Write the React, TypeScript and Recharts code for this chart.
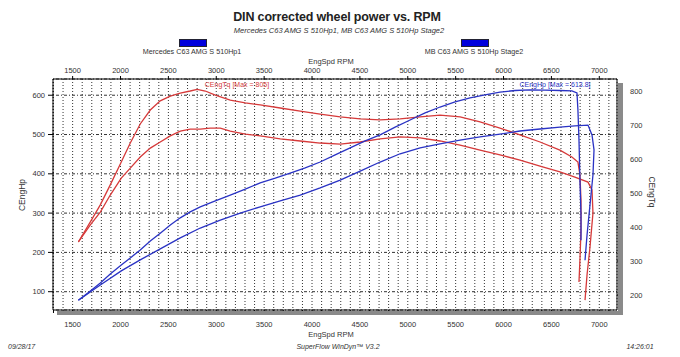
import React from 'react';
import { LineChart, Line, XAxis, YAxis, CartesianGrid } from 'recharts';

// ---- Data ----
const stage2HpRpm = [1560, 1685, 1789, 1893, 2008, 2102, 2206, 2311, 2415, 2520, 2624, 2728, 2833, 2990, 3146, 3303, 3459, 3616, 3772, 3929, 4085, 4242, 4398, 4555, 4711, 4868, 5024, 5181, 5337, 5494, 5650, 5807, 5963, 6120, 6276, 6433, 6589, 6714, 6767, 6777, 6788, 6798, 6809, 6809];
const stage2HpVal = [78, 102, 122, 145, 168, 186, 206, 229, 249, 270, 288, 303, 316, 331, 346, 361, 377, 389, 402, 415, 430, 448, 466, 484, 499, 519, 537, 555, 570, 583, 593, 601, 608, 612, 613.8, 613, 612, 611, 606, 562, 486, 384, 295, 231];

const stockHpRpm = [1560, 1789, 2008, 2206, 2415, 2624, 2833, 3042, 3250, 3459, 3668, 3877, 4085, 4294, 4503, 4711, 4920, 5129, 5337, 5546, 5755, 5963, 6172, 6381, 6589, 6745, 6882, 6924, 6945, 6934, 6903, 6872, 6851];
const stockHpVal = [78, 117, 153, 181, 209, 237, 262, 282, 300, 316, 331, 346, 364, 384, 407, 430, 451, 466, 476, 486, 494, 501, 509, 514, 519, 522, 524, 499, 461, 397, 321, 244, 180];

const stage2TqRpm = [1560, 1685, 1789, 1893, 2008, 2102, 2206, 2311, 2415, 2520, 2624, 2728, 2801, 2885, 2990, 3146, 3303, 3459, 3668, 3877, 4085, 4294, 4503, 4711, 4920, 5129, 5337, 5546, 5755, 5963, 6172, 6381, 6589, 6714, 6777, 6798, 6809, 6809, 6798, 6788];
const stage2TqVal = [356, 415, 465, 524, 591, 647, 703, 744, 771, 785, 794, 800, 805, 800, 788, 773, 765, 759, 750, 741, 732, 724, 718, 715, 718, 724, 729, 724, 709, 691, 671, 650, 626, 606, 591, 553, 479, 391, 303, 238];

const stockTqRpm = [1560, 1685, 1789, 1893, 2008, 2102, 2206, 2311, 2415, 2520, 2624, 2728, 2833, 2937, 3042, 3146, 3303, 3459, 3668, 3877, 4085, 4294, 4503, 4711, 4920, 5129, 5337, 5546, 5755, 5963, 6172, 6381, 6589, 6745, 6882, 6924, 6934, 6903, 6872, 6851];
const stockTqVal = [356, 406, 444, 494, 544, 573, 606, 632, 650, 668, 682, 688, 688, 691, 691, 682, 673, 668, 659, 653, 647, 644, 650, 659, 665, 662, 653, 641, 626, 612, 597, 579, 562, 547, 532, 509, 441, 341, 259, 185];

const rpmLabelTicks = [1500, 2000, 2500, 3000, 3500, 4000, 4500, 5000, 5500, 6000, 6500, 7000];
const rpmMinorTicks = Array.from({ length: 59 }, (_, i) => 1300 + i * 100);
const hpTicks = [100, 200, 300, 400, 500, 600];
const tqTicks = [200, 300, 400, 500, 600, 700, 800];

const legendNames = ['Mercedes C63 AMG S 510Hp1', 'MB C63 AMG S 510Hp Stage2'];

const toSeries = (rpm: number[], val: number[]) => rpm.map((r, i) => ({ rpm: r, v: val[i] }));
const stage2Hp = toSeries(stage2HpRpm, stage2HpVal);
const stockHp = toSeries(stockHpRpm, stockHpVal);
const stage2Tq = toSeries(stage2TqRpm, stage2TqVal);
const stockTq = toSeries(stockTqRpm, stockTqVal);

const FONT = '"Liberation Sans", Arial, sans-serif';
const RED = '#d63a3a';
const BLUE = '#2a33c4';

type TProps = { x: number; y: number; size: number; anchor?: 'start' | 'middle' | 'end'; style?: React.CSSProperties; children: React.ReactNode };
const T = ({ x, y, size, anchor = 'middle', style, children }: TProps) => {
  const base: React.CSSProperties = {
    position: 'absolute',
    top: y - size * 0.6,
    lineHeight: `${size * 1.2}px`,
    fontSize: size,
    fontFamily: FONT,
    whiteSpace: 'nowrap',
    color: '#333',
  };
  if (anchor === 'middle') Object.assign(base, { left: x - 200, width: 400, textAlign: 'center' });
  else if (anchor === 'start') Object.assign(base, { left: x });
  else Object.assign(base, { left: x - 200, width: 200, textAlign: 'right' });
  return <div style={{ ...base, ...style }}>{children}</div>;
};

const tickStyle = { fontSize: 7.5, fill: '#333', fontFamily: FONT };

export default function App() {
  return (
    <div style={{ position: 'absolute', left: 0, top: 0, width: 680, height: 357, background: '#fff', overflow: 'hidden' }}>
      <LineChart width={680} height={357} margin={{ top: 59, right: 13, bottom: 17, left: 13 }}>
        <CartesianGrid xAxisId="b" yAxisId="hp" horizontal={false} stroke="#333" strokeDasharray="1 2" />
        <CartesianGrid xAxisId="b" yAxisId="hp" vertical={false} stroke="#333" strokeDasharray="1 2 3 2" />
        <XAxis xAxisId="b" dataKey="rpm" type="number" orientation="bottom" domain={[1295, 7185]} allowDataOverflow
          ticks={rpmMinorTicks} interval={0} tickFormatter={(v: number) => (v % 500 === 0 ? String(v) : '')}
          height={30} tickSize={3} tickMargin={9} stroke="#000" tick={tickStyle} />
        <XAxis xAxisId="t" dataKey="rpm" type="number" orientation="top" domain={[1295, 7185]} allowDataOverflow
          ticks={rpmLabelTicks} interval={0} height={20} tickSize={3} tickMargin={3} stroke="#000" tick={tickStyle} />
        <YAxis yAxisId="hp" orientation="left" type="number" domain={[53.4, 641.3]} allowDataOverflow ticks={hpTicks}
          interval={0} width={40} tickSize={5} tickMargin={3} stroke="#000" tick={tickStyle} />
        <YAxis yAxisId="tq" orientation="right" type="number" domain={[155.9, 835.3]} allowDataOverflow ticks={tqTicks}
          interval={0} width={50} tickSize={5} tickMargin={8} stroke="#000" tick={tickStyle} />
        <Line xAxisId="b" yAxisId="tq" data={stockTq} dataKey="v" type="linear" stroke={RED} strokeWidth={1.3} dot={false} isAnimationActive={false} />
        <Line xAxisId="b" yAxisId="tq" data={stage2Tq} dataKey="v" type="linear" stroke={RED} strokeWidth={1.3} dot={false} isAnimationActive={false} />
        <Line xAxisId="b" yAxisId="hp" data={stockHp} dataKey="v" type="linear" stroke={BLUE} strokeWidth={1.3} dot={false} isAnimationActive={false} />
        <Line xAxisId="b" yAxisId="hp" data={stage2Hp} dataKey="v" type="linear" stroke={BLUE} strokeWidth={1.3} dot={false} isAnimationActive={false} />
      </LineChart>

      {/* frame shadow */}
      <div style={{ position: 'absolute', left: 617.5, top: 83, width: 5, height: 231, background: '#8a8a8a' }} />
      <div style={{ position: 'absolute', left: 57, top: 310.5, width: 565.5, height: 4, background: '#8a8a8a' }} />

      {/* titles */}
      <T x={337} y={17} size={12.5} style={{ fontWeight: 'bold', color: '#222', letterSpacing: -0.15 }}>DIN corrected wheel power vs. RPM</T>
      <T x={339} y={30} size={7.5} style={{ fontStyle: 'italic' }}>{legendNames[0].replace('510Hp1', '510Hp1,')} {legendNames[1]}</T>

      {/* legend */}
      <div style={{ position: 'absolute', left: 179, top: 39, width: 26, height: 6, background: '#0000dd', border: '0.5px solid #223' }} />
      <div style={{ position: 'absolute', left: 461, top: 39, width: 26, height: 6, background: '#0000dd', border: '0.5px solid #223' }} />
      <T x={192} y={52} size={7.2}>{legendNames[0]}</T>
      <T x={474} y={52} size={7.2}>{legendNames[1]}</T>

      {/* axis titles */}
      <T x={331} y={61} size={7.5}>EngSpd RPM</T>
      <T x={331} y={334} size={7.5}>EngSpd RPM</T>
      <div style={{ position: 'absolute', left: 22 - 40, top: 195 - 6, width: 80, height: 12, lineHeight: '12px', textAlign: 'center', fontSize: 8.5, fontFamily: FONT, color: '#333', transform: 'rotate(-90deg)' }}>CEngHp</div>
      <div style={{ position: 'absolute', left: 652 - 40, top: 192 - 6, width: 80, height: 12, lineHeight: '12px', textAlign: 'center', fontSize: 8.5, fontFamily: FONT, color: '#333', transform: 'rotate(90deg)' }}>CEngTq</div>

      {/* in-plot annotations */}
      <T x={237} y={85} size={7} style={{ color: RED }}>CEngTq [Max = 805]</T>
      <T x={555} y={85} size={7} style={{ color: BLUE }}>CEngHp [Max = 613.8]</T>

      {/* footer */}
      <T x={8} y={347} size={7} anchor="start" style={{ fontStyle: 'italic' }}>09/28/17</T>
      <T x={338} y={347} size={7} style={{ fontStyle: 'italic' }}>SuperFlow WinDyn™ V3.2</T>
      <T x={640} y={347} size={7} style={{ fontStyle: 'italic' }}>14:26:01</T>
    </div>
  );
}
